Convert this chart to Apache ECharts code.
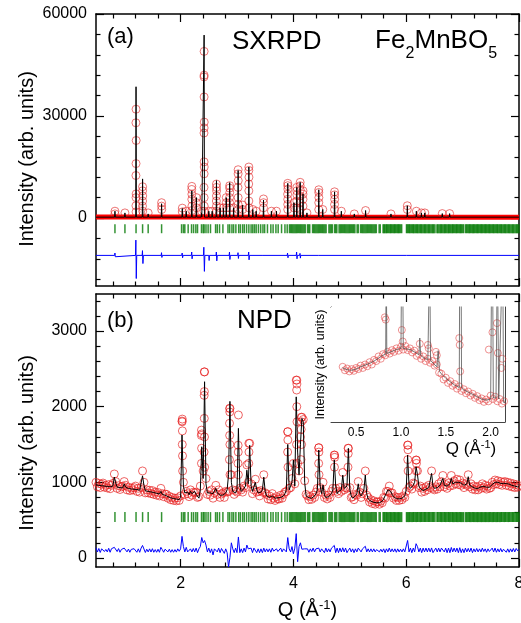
<!DOCTYPE html>
<html><head><meta charset="utf-8">
<script src="https://cdn.jsdelivr.net/npm/echarts@6/dist/echarts.min.js"></script>
<style>html,body{margin:0;padding:0;background:#fff}#c{width:521px;height:623px}</style>
</head><body><div id="c"></div>
<script>
// ================= DATA =================
// Bragg reflection positions (green ticks), Q in 1/Angstrom
const braggQ = [0.836, 1.013, 1.21, 1.326, 1.425, 1.663,
  2.017, 2.05, 2.075, 2.134, 2.194, 2.23, 2.27, 2.30, 2.37, 2.40, 2.417, 2.45, 2.488, 2.53, 2.62, 2.65, 2.69, 2.75,
  2.84, 2.87, 2.91, 2.94, 2.98, 3.03, 3.06, 3.10, 3.13, 3.17, 3.21, 3.25, 3.28, 3.31, 3.34, 3.38, 3.42, 3.46, 3.49,
  3.54, 3.60, 3.64, 3.69, 3.73, 3.79, 3.85, 3.89, 3.93, 3.95, 3.97, 3.99, 4.01, 4.03, 4.05, 4.07, 4.09, 4.11, 4.13,
  4.15, 4.17, 4.19, 4.21, 4.25, 4.27, 4.29, 4.34, 4.36, 4.38, 4.40, 4.42, 4.44, 4.46, 4.48, 4.50, 4.52, 4.54, 4.56,
  4.58, 4.63, 4.65, 4.67, 4.69, 4.73, 4.75, 4.77, 4.81, 4.83, 4.85, 4.87, 4.89, 4.91, 4.93, 4.95, 4.97, 4.99, 5.01,
  5.03, 5.05, 5.07, 5.09, 5.13, 5.15, 5.19, 5.21, 5.23, 5.25, 5.27, 5.29, 5.31, 5.33, 5.35, 5.37, 5.39, 5.41, 5.43,
  5.45, 5.47, 5.52, 5.54, 5.59,
  5.605, 5.62, 5.64, 5.655, 5.67, 5.69, 5.71, 5.725, 5.74, 5.76, 5.78, 5.795, 5.81, 5.83, 5.85, 5.865, 5.88, 5.9, 5.92,
  6.005, 6.02, 6.04, 6.055, 6.07, 6.09, 6.11, 6.125, 6.14, 6.16, 6.18, 6.195, 6.21, 6.23, 6.25, 6.265, 6.28, 6.3,
  6.32, 6.335, 6.35, 6.37, 6.39, 6.405, 6.42, 6.44, 6.46, 6.475, 6.49, 6.51,
  6.545, 6.56, 6.58, 6.6, 6.615, 6.63, 6.65, 6.67, 6.685, 6.7, 6.72, 6.74, 6.755, 6.77, 6.79, 6.81, 6.825, 6.84,
  6.86, 6.88, 6.895, 6.91, 6.93, 6.95, 6.965, 6.98, 7.0, 7.02,
  7.055, 7.07, 7.09, 7.11, 7.125, 7.14, 7.16, 7.18, 7.195, 7.21, 7.23, 7.25, 7.265, 7.28, 7.3, 7.32, 7.335, 7.35,
  7.37, 7.39, 7.405, 7.42, 7.44, 7.46, 7.475, 7.49, 7.51, 7.53, 7.545, 7.56, 7.58, 7.6, 7.615, 7.63, 7.65, 7.67,
  7.685, 7.7, 7.72, 7.74, 7.755, 7.77, 7.79, 7.81, 7.825, 7.84, 7.86, 7.88, 7.895, 7.91, 7.93, 7.95, 7.965, 7.98, 8.0];

// ---- (a) SXRPD ----
const sxBackground = [[0.5, 300], [2.0, 300], [4.0, 250], [6.0, 200], [8.0, 200]];   // observed background band
const sxCalcBase = 250;
const sxPeakQ = [0.836, 1.013, 1.21, 1.326, 1.425, 1.663, 2.03, 2.10, 2.199, 2.28, 2.37, 2.417, 2.50, 2.56, 2.636,
  2.70, 2.76, 2.81, 2.87, 2.94, 3.02, 3.10, 3.21, 3.28, 3.34, 3.47, 3.61, 3.70, 3.90, 4.01, 4.06, 4.12, 4.17, 4.24,
  4.45, 4.52, 4.73, 4.85, 5.08, 5.28, 5.73, 6.02, 6.18, 6.27, 6.33, 6.64, 6.77];
const sxPeakCalc = [2000, 1500, 38600, 11500, 1200, 4200, 2800, 2000, 8000, 6000, 1500, 53800, 2000, 2000, 11000,
  3000, 3000, 6000, 10400, 3000, 14000, 3800, 15000, 2500, 2000, 5300, 2000, 2000, 10200, 4500, 9000, 10500, 7100, 1500,
  8300, 2500, 7700, 2000, 1200, 2200, 1200, 3600, 2000, 1500, 1500, 1300, 1300];
const sxPeakObs = [
  [0.836, 2000], [0.836, 1200], [1.013, 1500],
  [1.21, 32000], [1.208, 28000], [1.212, 22800], [1.21, 16000], [1.208, 12500], [1.212, 7100], [1.21, 6000], [1.208, 3600], [1.21, 1800],
  [1.326, 9200], [1.326, 8000], [1.328, 6500], [1.326, 5000], [1.324, 3500], [1.328, 2000], [1.425, 1500],
  [1.663, 4500], [1.663, 3500], [1.665, 2500], [2.03, 2900], [2.03, 1800], [2.10, 2000],
  [2.199, 9300], [2.197, 8400], [2.20, 7000], [2.199, 5500], [2.2, 3500], [2.2, 2200],
  [2.28, 6000], [2.28, 4500], [2.282, 3000], [2.37, 2000],
  [2.417, 49000], [2.417, 42000], [2.415, 41500], [2.417, 35600], [2.419, 28200], [2.417, 26500], [2.415, 25000],
  [2.417, 16500], [2.419, 15000], [2.417, 13000], [2.415, 9000], [2.417, 6000], [2.419, 3500], [2.417, 2000],
  [2.50, 2000], [2.56, 2000],
  [2.636, 10000], [2.636, 9000], [2.638, 8000], [2.636, 6500], [2.634, 5000], [2.636, 3500], [2.636, 2000],
  [2.70, 3000], [2.76, 3000], [2.81, 6000], [2.81, 4500], [2.81, 3000],
  [2.87, 9500], [2.87, 8800], [2.872, 7500], [2.868, 6000], [2.87, 4500], [2.87, 3000], [2.94, 3000],
  [3.02, 14200], [3.02, 13000], [3.022, 11000], [3.018, 9000], [3.02, 6000], [3.02, 4000], [3.02, 2500],
  [3.10, 3800], [3.10, 2500],
  [3.21, 15000], [3.21, 14000], [3.212, 12000], [3.208, 10000], [3.21, 8000], [3.21, 5000], [3.21, 3000],
  [3.28, 2500], [3.34, 2000], [3.47, 5600], [3.47, 4500], [3.47, 3000], [3.61, 2000], [3.70, 2000],
  [3.90, 10200], [3.90, 9500], [3.902, 8500], [3.898, 7000], [3.9, 5500], [3.9, 4000], [3.9, 2500],
  [4.01, 4500], [4.01, 3000], [4.06, 9000], [4.06, 8000], [4.062, 6800], [4.06, 5000], [4.06, 3000],
  [4.12, 10500], [4.12, 9500], [4.122, 8200], [4.118, 6500], [4.12, 4500], [4.12, 2500],
  [4.17, 8000], [4.17, 7000], [4.17, 5500], [4.17, 3500], [4.24, 1500],
  [4.45, 8300], [4.45, 7500], [4.452, 6000], [4.45, 4500], [4.45, 2500], [4.52, 2500],
  [4.73, 7700], [4.73, 6800], [4.732, 5500], [4.73, 4000], [4.73, 2500],
  [4.85, 2000], [5.08, 1200], [5.28, 2200], [5.73, 1200], [6.02, 3600], [6.02, 2500],
  [6.18, 2000], [6.27, 1500], [6.33, 1500], [6.64, 1300], [6.77, 1300]];
const sxDiff = [[0.5, -11000], [0.83, -11000], [0.836, -10300], [0.842, -11400], [0.85, -11000],
  [1.2, -11000], [1.207, -6500], [1.214, -17800], [1.222, -11000], [1.318, -11000], [1.324, -9600], [1.332, -13400], [1.34, -11000],
  [1.655, -11000], [1.662, -10200], [1.668, -11600], [1.675, -11000], [2.02, -11000], [2.028, -10300], [2.035, -11700], [2.045, -11000],
  [2.19, -11000], [2.197, -10000], [2.204, -12000], [2.21, -11000], [2.405, -11000], [2.412, -8600], [2.422, -15700], [2.43, -11000],
  [2.5, -11000], [2.506, -12500], [2.512, -11000], [2.628, -11000], [2.634, -10000], [2.642, -12600], [2.65, -11000],
  [2.86, -11000], [2.867, -10000], [2.874, -12200], [2.882, -11000], [3.012, -11000], [3.018, -10200], [3.025, -11900], [3.032, -11000],
  [3.2, -11000], [3.207, -10000], [3.214, -12300], [3.22, -11000], [3.46, -11000], [3.467, -10500], [3.474, -11500], [3.48, -11000],
  [3.89, -11000], [3.896, -10300], [3.904, -11700], [3.91, -11000], [4.05, -11000], [4.057, -10000], [4.064, -12000], [4.07, -11000],
  [4.11, -11000], [4.117, -10400], [4.124, -11800], [4.13, -11000], [4.44, -11000], [4.447, -10500], [4.454, -11500], [4.46, -11000],
  [4.72, -11000], [4.727, -10600], [4.734, -11400], [4.74, -11000], [6.01, -11000], [6.017, -10700], [6.024, -11300], [6.03, -11000],
  [8.0, -11000]];
const sxBraggLevel = -3150;

// ---- (b) NPD : scan grid 0.5 ... 8.0 step 0.025 ----
const npdQStart = 0.5, npdQStep = 0.025;
const npdCalc = [
  965, 962, 960, 958, 955, 952, 950, 948, 945, 943,
  940, 938, 950, 1070, 990, 936, 932, 930, 928, 926,
  980, 935, 920, 918, 915, 912, 910, 908, 925, 905,
  900, 895, 900, 1085, 960, 888, 885, 880, 875, 872,
  868, 865, 860, 855, 850, 845, 880, 840, 835, 830,
  820, 810, 800, 795, 790, 785, 780, 778, 775, 772,
  800, 1625, 950, 860, 840, 870, 835, 880, 850, 845,
  880, 840, 830, 790, 900, 1470, 1050, 2330, 980, 860,
  850, 860, 880, 850, 840, 920, 860, 870, 830, 820,
  830, 840, 860, 900, 1100, 2070, 1000, 880, 870, 860,
  900, 1713, 950, 880, 900, 920, 950, 1160, 980, 1490,
  950, 880, 870, 1000, 900, 860, 850, 870, 900, 1070,
  880, 820, 800, 800, 795, 820, 800, 790, 790, 795,
  800, 800, 810, 820, 850, 900, 1500, 900, 950, 1000,
  1295, 950, 2130, 1400, 1100, 1500, 1845, 1800, 1000, 820,
  800, 795, 790, 790, 800, 820, 850, 900, 1427, 950,
  850, 964, 830, 800, 800, 810, 820, 850, 900, 1295,
  950, 850, 880, 900, 900, 1096, 920, 900, 950, 1449,
  900, 820, 790, 800, 820, 850, 980, 850, 820, 830,
  900, 1096, 850, 780, 760, 750, 740, 735, 730, 730,
  728, 730, 735, 750, 780, 820, 860, 900, 920, 880,
  840, 810, 790, 785, 780, 780, 785, 790, 800, 820,
  900, 1361, 950, 920, 940, 960, 1000, 1206, 1100, 950,
  920, 900, 890, 900, 910, 920, 930, 950, 1118, 950,
  920, 910, 930, 950, 960, 980, 1052, 960, 940, 950,
  960, 980, 1052, 980, 990, 1000, 1010, 1000, 995, 990,
  970, 960, 950, 980, 1074, 960, 950, 940, 930, 920,
  915, 920, 930, 940, 950, 945, 940, 935, 930, 935,
  950, 970, 990, 1000, 1005, 1000, 990, 985, 980, 985,
  990, 985, 980, 975, 970, 960, 955, 950, 945, 940,
  940];
const npdObs = [
  1000, 940, 985, 930, 975, 990, 935, 960, 925, 970,
  915, 960, 985, 1110, 1010, 920, 955, 905, 940, 950,
  1010, 960, 900, 935, 890, 925, 900, 930, 950, 880,
  920, 870, 930, 1150, 1000, 860, 900, 860, 895, 850,
  890, 840, 870, 830, 865, 820, 920, 850, 810, 845,
  840, 790, 815, 770, 800, 760, 790, 755, 795, 760,
  820, 1810, 1000, 840, 880, 850, 810, 900, 830, 870,
  860, 870, 800, 810, 950, 1640, 1150, 2460, 1050, 840,
  880, 830, 900, 790, 860, 960, 840, 900, 800, 845,
  860, 800, 880, 870, 880, 1977, 1100, 900, 840, 890,
  870, 1890, 920, 900, 870, 950, 930, 1230, 1000, 1515,
  980, 850, 900, 1040, 870, 880, 820, 890, 870, 1100,
  860, 840, 780, 820, 770, 850, 790, 760, 810, 780,
  780, 830, 790, 840, 870, 880, 1669, 920, 930, 1050,
  1250, 980, 2351, 1250, 1150, 1600, 1860, 1830, 1020, 840,
  820, 770, 810, 775, 830, 800, 870, 920, 1457, 930,
  870, 1000, 800, 830, 780, 830, 800, 880, 920, 1360,
  920, 880, 850, 930, 880, 1130, 900, 930, 920, 1450,
  930, 800, 810, 770, 840, 830, 1010, 870, 800, 850,
  920, 1150, 830, 800, 740, 770, 720, 755, 710, 740,
  740, 710, 750, 730, 800, 790, 880, 880, 950, 860,
  860, 790, 810, 760, 800, 760, 800, 770, 820, 800,
  880, 1492, 930, 950, 910, 990, 980, 1294, 1150, 930,
  950, 870, 920, 880, 940, 900, 960, 930, 1150, 920,
  900, 940, 910, 980, 940, 1010, 1090, 940, 970, 920,
  990, 950, 1090, 960, 1020, 980, 1040, 970, 1030, 960,
  990, 930, 980, 960, 1100, 940, 980, 910, 950, 900,
  940, 900, 950, 920, 980, 930, 960, 910, 950, 920,
  930, 1000, 970, 1030, 980, 1020, 970, 1010, 960, 1000,
  1010, 960, 1000, 950, 990, 940, 980, 930, 970, 935,
  955];
// extra observed points on the steep flanks of the strong peaks
const npdPeakObs = [
  [2.03, 1836], [2.028, 1800], [2.032, 1680], [2.03, 1500], [2.034, 1350], [2.036, 1150],
  [2.37, 1690], [2.368, 1620], [2.372, 1450], [2.37, 1250],
  [2.42, 2460], [2.422, 2200], [2.418, 2150], [2.42, 1845], [2.424, 1600], [2.416, 1400], [2.426, 1200],
  [2.87, 1977], [2.872, 1930], [2.868, 1780], [2.87, 1620], [2.874, 1500], [2.866, 1300], [2.876, 1100],
  [3.02, 1490], [3.022, 1400], [3.018, 1250], [3.024, 1100],
  [3.21, 1515], [3.212, 1400], [3.208, 1250],
  [3.90, 1669], [3.902, 1560], [3.898, 1400], [3.904, 1200],
  [4.06, 2351], [4.062, 2300], [4.058, 2220], [4.06, 2000], [4.064, 1800], [4.056, 1500],
  [4.14, 1860], [4.142, 1800], [4.138, 1700], [4.145, 1500], [4.135, 1300],
  [4.45, 1457], [4.452, 1400], [4.448, 1250], [4.454, 1100],
  [4.73, 1360], [4.732, 1330], [4.728, 1200],
  [4.97, 1450], [4.972, 1380], [4.968, 1200],
  [6.03, 1492], [6.032, 1430], [6.028, 1300], [6.034, 1150],
  [6.18, 1294], [6.182, 1250], [6.178, 1150]];
const npdDiffOffset = 100;
const npdBraggLevel = 540;

// ---- inset: low-Q NPD (arb. units) ----
const insetQStart = 0.35, insetQStep = 0.025;
const insetObs = [48, 45, 46.5, 44, 46, 44.5, 47, 46, 49, 47,
  50, 48.5, 52, 50, 54, 53, 57, 55, 59, 58,
  61, 59.5, 62.5, 61, 64, 62, 65.5, 63, 66, 62.5,
  64, 60.5, 62, 57.5, 59, 55, 57, 53, 55, 51.5,
  53, 49, 50, 43, 42, 37, 38.5, 34, 35.5, 31.5,
  33, 29, 31, 27, 28.5, 25, 26.5, 23, 24.5, 21,
  22.5, 19, 20.5, 17.5, 19.5, 18, 23, 20, 22, 18,
  20, 16, 18, 14];
const insetPeakObs = [[0.82, 91], [0.83, 89], [1.01, 80], [1.02, 70], [1.21, 68], [1.3, 67], [1.31, 64], [1.39, 61],
  [1.4, 58], [1.65, 73], [1.655, 67], [1.66, 44], [1.98, 63], [2.02, 78], [2.07, 86], [2.08, 60], [2.12, 47], [2.13, 55]];
const insetCalc = [[0.35, 47], [0.4, 45.5], [0.45, 45], [0.5, 46], [0.55, 48], [0.6, 49.5], [0.65, 51], [0.7, 53],
  [0.75, 55.5], [0.8, 58], [0.83, 59], [0.836, 160], [0.842, 59.5], [0.9, 61.5], [0.95, 63], [1.0, 64], [1.013, 200],
  [1.026, 64], [1.1, 63], [1.15, 61], [1.2, 58.5], [1.21, 73], [1.22, 58], [1.25, 56], [1.3, 54], [1.32, 150],
  [1.33, 53.5], [1.35, 52], [1.4, 48], [1.415, 62], [1.43, 44], [1.45, 42], [1.5, 38], [1.55, 35], [1.6, 32],
  [1.65, 30], [1.663, 300], [1.676, 29.5], [1.7, 28], [1.75, 26], [1.8, 24], [1.85, 22], [1.9, 20], [1.95, 19],
  [2.0, 20], [2.017, 200], [2.03, 21], [2.06, 21], [2.075, 150], [2.09, 20], [2.1, 19], [2.134, 150], [2.145, 17], [2.2, 16]];

// ================= BUILD =================
const r3 = v => Math.round(v * 1000) / 1000;
const sxCalcLine = [[0.5, sxCalcBase]];
sxPeakQ.forEach((q, i) => { sxCalcLine.push([q - 0.006, sxCalcBase], [q, sxPeakCalc[i]], [q + 0.006, sxCalcBase]); });
sxCalcLine.push([8.0, sxCalcBase]);

const npdQ = npdObs.map((_, i) => r3(npdQStart + i * npdQStep));
const npdObsData = npdObs.map((v, i) => [npdQ[i], v]).concat(npdPeakObs);
const npdCalcData = npdCalc.map((v, i) => [npdQ[i], v]);
const npdDiffData = npdObs.map((v, i) => [npdQ[i], v - npdCalc[i] + npdDiffOffset]);
const insetObsData = insetObs.map((v, i) => [r3(insetQStart + i * insetQStep), v]).concat(insetPeakObs);

const F = '"Liberation Sans", Arial, sans-serif';
const minorX = [0.8, 1.2, 1.6, 2.4, 2.8, 3.2, 3.6, 4.4, 4.8, 5.2, 5.6, 6.4, 6.8, 7.2, 7.6];
const majorX = [2, 4, 6, 8];
const plain = v => String(v);

function xAx(gi, pos, ticks, len, line, lab) {
  return {
    type: 'value', gridIndex: gi, position: pos, min: 0.5, max: 8,
    axisLine: { show: line, onZero: false, lineStyle: { color: '#000', width: 1.5 } },
    axisTick: { show: true, inside: true, length: len, customValues: ticks, lineStyle: { color: '#000', width: 1.2 } },
    axisLabel: lab ? { show: true, customValues: majorX, margin: 9, color: '#000', fontSize: 16, fontFamily: F, formatter: plain } : { show: false },
    splitLine: { show: false }
  };
}
function yAx(gi, pos, min, max, ticks, len, line, labVals) {
  return {
    type: 'value', gridIndex: gi, position: pos, min: min, max: max,
    axisLine: { show: line, onZero: false, lineStyle: { color: '#000', width: 1.5 } },
    axisTick: { show: true, inside: true, length: len, customValues: ticks, lineStyle: { color: '#000', width: 1.2 } },
    axisLabel: labVals ? { show: true, customValues: labVals, margin: 9, color: '#000', fontSize: 16, fontFamily: F, formatter: plain } : { show: false },
    splitLine: { show: false }
  };
}
const topMajorY = [0, 30000, 60000];
const topMinorY = [-18000, -12000, -6000, 6000, 12000, 18000, 24000, 36000, 42000, 48000, 54000];
const botMajorY = [0, 1000, 2000, 3000];
const botMinorY = [200, 400, 600, 800, 1200, 1400, 1600, 1800, 2200, 2400, 2600, 2800, 3200, 3400];

const xAxes = [
  xAx(0, 'bottom', majorX, 8, true, false), xAx(0, 'bottom', minorX, 4.5, false, false),
  xAx(0, 'top', majorX, 8, true, false), xAx(0, 'top', minorX, 4.5, false, false),
  xAx(1, 'bottom', majorX, 8, true, true), xAx(1, 'bottom', minorX, 4.5, false, false),
  xAx(1, 'top', majorX, 8, true, false), xAx(1, 'top', minorX, 4.5, false, false),
  {
    type: 'value', gridIndex: 2, position: 'bottom', min: 0.22, max: 2.16,
    axisLine: { show: true, onZero: false, lineStyle: { color: '#444', width: 1 } },
    axisTick: { show: true, inside: true, length: 4, customValues: [0.5, 1.0, 1.5, 2.0], lineStyle: { color: '#444' } },
    axisLabel: { show: true, customValues: [0.5, 1.0, 1.5, 2.0], margin: 5, color: '#000', fontSize: 12, fontFamily: F, formatter: v => v.toFixed(1) },
    splitLine: { show: false }
  },
  {
    type: 'value', gridIndex: 2, position: 'top', min: 0.22, max: 2.16,
    axisLine: { show: true, onZero: false, lineStyle: { color: '#444', width: 1 } },
    axisTick: { show: false }, axisLabel: { show: false }, splitLine: { show: false }
  }
];
const yAxes = [
  yAx(0, 'left', -20000, 60000, topMajorY, 8, true, topMajorY), yAx(0, 'left', -20000, 60000, topMinorY, 4.5, false, null),
  yAx(0, 'right', -20000, 60000, topMajorY, 8, true, null), yAx(0, 'right', -20000, 60000, topMinorY, 4.5, false, null),
  yAx(1, 'left', -120, 3490, botMajorY, 8, true, botMajorY), yAx(1, 'left', -120, 3490, botMinorY, 4.5, false, null),
  yAx(1, 'right', -120, 3490, botMajorY, 8, true, null), yAx(1, 'right', -120, 3490, botMinorY, 4.5, false, null),
  {
    type: 'value', gridIndex: 2, position: 'left', min: 0, max: 100,
    name: 'Intensity (arb. units)', nameLocation: 'middle', nameGap: 4,
    nameTextStyle: { fontSize: 12.5, fontFamily: F, color: '#000' },
    axisLine: { show: true, onZero: false, lineStyle: { color: '#444', width: 1 } },
    axisTick: { show: true, inside: true, length: 3, customValues: [10, 20, 30, 40, 50, 60, 70, 80, 90], lineStyle: { color: '#444' } },
    axisLabel: { show: false }, splitLine: { show: false }
  },
  {
    type: 'value', gridIndex: 2, position: 'right', min: 0, max: 100,
    axisLine: { show: true, onZero: false, lineStyle: { color: '#444', width: 1 } },
    axisTick: { show: false }, axisLabel: { show: false }, splitLine: { show: false }
  }
];
xAxes[4].name = '{a|Q (Å}{s|-1}{a|)}';
xAxes[4].nameLocation = 'middle';
xAxes[4].nameGap = 31;
xAxes[4].nameTextStyle = {
  color: '#000',
  rich: { a: { fontSize: 20, fontFamily: F, color: '#000', lineHeight: 24 },
          s: { fontSize: 13, fontFamily: F, color: '#000', lineHeight: 13, padding: [0, 0, 9, 0] } }
};

const circ = (color) => ({ color: 'rgba(0,0,0,0)', borderColor: color, borderWidth: 1 });

const series = [
  // (a)
  { type: 'line', name: 'obs background', xAxisIndex: 0, yAxisIndex: 0, data: sxBackground, showSymbol: false, symbol: 'none',
    lineStyle: { color: '#ff0000', width: 5 }, z: 2 },
  { type: 'scatter', name: 'obs', xAxisIndex: 0, yAxisIndex: 0, data: sxPeakObs, symbol: 'circle', symbolSize: 8,
    itemStyle: circ('rgba(225,40,40,0.8)'), z: 3 },
  { type: 'line', name: 'calc', xAxisIndex: 0, yAxisIndex: 0, data: sxCalcLine, showSymbol: false, symbol: 'none',
    lineStyle: { color: '#000', width: 1 }, z: 4 },
  { type: 'line', name: 'diff', xAxisIndex: 0, yAxisIndex: 0, data: sxDiff, showSymbol: false, symbol: 'none',
    lineStyle: { color: '#0000ff', width: 1 }, z: 4 },
  { type: 'scatter', name: 'Bragg', xAxisIndex: 0, yAxisIndex: 0, data: braggQ.map(q => [q, sxBraggLevel]),
    symbol: 'rect', symbolSize: [1.5, 9], itemStyle: { color: '#007800' }, z: 3 },
  // (b)
  { type: 'scatter', name: 'obs', xAxisIndex: 4, yAxisIndex: 4, data: npdObsData, symbol: 'circle', symbolSize: 8,
    itemStyle: circ('rgba(230,30,30,0.85)'), z: 3 },
  { type: 'line', name: 'calc', xAxisIndex: 4, yAxisIndex: 4, data: npdCalcData, showSymbol: false, symbol: 'none',
    lineStyle: { color: '#000', width: 1 }, z: 4 },
  { type: 'line', name: 'diff', xAxisIndex: 4, yAxisIndex: 4, data: npdDiffData, showSymbol: false, symbol: 'none',
    lineStyle: { color: '#0000ff', width: 1 }, z: 4 },
  { type: 'scatter', name: 'Bragg', xAxisIndex: 4, yAxisIndex: 4, data: braggQ.map(q => [q, npdBraggLevel]),
    symbol: 'rect', symbolSize: [1.5, 10], itemStyle: { color: '#007800' }, z: 3 },
  // inset
  { type: 'scatter', name: 'inset obs', xAxisIndex: 8, yAxisIndex: 8, data: insetObsData, symbol: 'circle', symbolSize: 7,
    itemStyle: circ('rgba(225,60,60,0.7)'), z: 6 },
  { type: 'line', name: 'inset calc', xAxisIndex: 8, yAxisIndex: 8, data: insetCalc, showSymbol: false, symbol: 'none',
    lineStyle: { color: '#555', width: 0.8 }, z: 7 }
];

const textStyle = (t, x, y, size, extra) => Object.assign({ type: 'text', x: x, y: y, z: 100,
  style: { text: t, fontSize: size, fontFamily: F, fill: '#000', align: 'left', verticalAlign: 'middle' } }, extra || {});

const chart = echarts.init(document.getElementById('c'), null, { renderer: 'canvas' });
chart.setOption({
  animation: false,
  backgroundColor: '#fff',
  grid: [
    { left: 96, top: 14, width: 423, height: 272, outerBoundsMode: 'none' },
    { left: 96, top: 294, width: 423, height: 273, outerBoundsMode: 'none' },
    { left: 331, top: 307, width: 174, height: 115, show: true, backgroundColor: '#fff', borderWidth: 0, z: 5, outerBoundsMode: 'none' }
  ],
  xAxis: xAxes,
  yAxis: yAxes,
  series: series,
  graphic: [
    { type: 'text', x: 27, y: 159, rotation: Math.PI / 2, z: 100,
      style: { text: 'Intensity (arb. units)', fontSize: 20, fontFamily: F, fill: '#000', align: 'center', verticalAlign: 'middle' } },
    { type: 'text', x: 27, y: 443, rotation: Math.PI / 2, z: 100,
      style: { text: 'Intensity (arb. units)', fontSize: 20, fontFamily: F, fill: '#000', align: 'center', verticalAlign: 'middle' } },
    textStyle('(a)', 107, 37, 22),
    textStyle('SXRPD', 232, 42, 26),
    textStyle('Fe', 375, 41, 26),
    textStyle('2', 405.5, 53.5, 16),
    textStyle('MnBO', 414.5, 41, 26),
    textStyle('5', 488.2, 53.5, 16),
    textStyle('(b)', 107, 321, 22),
    textStyle('NPD', 237, 321, 26),
    { type: 'text', x: 471, y: 449, z: 100,
      style: { text: '{a|Q (Å}{s|-1}{a|)}', align: 'center', verticalAlign: 'middle', fill: '#000',
        rich: { a: { fontSize: 17, fontFamily: F, fill: '#000', lineHeight: 20 },
                s: { fontSize: 11, fontFamily: F, fill: '#000', lineHeight: 11, padding: [0, 0, 8, 0] } } } }
  ]
});
</script></body></html>
